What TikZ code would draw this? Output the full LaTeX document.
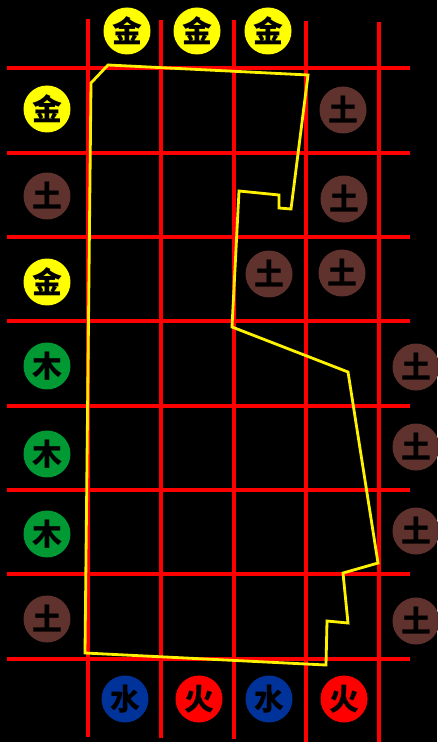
\documentclass[tikz,border=0pt]{standalone}
\usepackage{fontspec}
\newfontfamily\cjk{Noto Sans CJK SC}
\usepackage{tikz}
\usetikzlibrary{positioning}
\definecolor{metalyellow}{RGB}{255,255,0}
\definecolor{earthbrown}{RGB}{96,50,46}
\definecolor{woodgreen}{RGB}{0,153,51}
\definecolor{waterblue}{RGB}{0,51,153}
\definecolor{firered}{RGB}{255,0,0}
\begin{document}
\begin{tikzpicture}[x=0.02cm, y=-0.02cm,
		piece/.style={circle, minimum size=0.94cm, inner sep=0pt, text=black,
			font=\cjk\bfseries\fontsize{17pt}{17pt}\selectfont},
		metal/.style={piece, fill=metalyellow},
		earth/.style={piece, fill=earthbrown},
		wood/.style={piece, fill=woodgreen},
		water/.style={piece, fill=waterblue},
		fire/.style={piece, fill=firered},
		redline/.style={draw=red, line width=2pt},
		border/.style={draw=yellow, line width=1.6pt, line join=miter},
		]

		% Background
		\useasboundingbox (0,0) rectangle (437,742);
		\fill[black] (0,0) rectangle (437,742);

		% Grid
		\draw[redline] (88,19) -- (88,737);
		\draw[redline] (161,20) -- (161,738);
		\draw[redline] (234,20) -- (234,739);
		\draw[redline] (306,21) -- (306,742);
		\draw[redline] (379,22) -- (379,742);
		\draw[redline] (7,68) -- (410,68);
		\draw[redline] (7,153) -- (410,153);
		\draw[redline] (7,237) -- (410,237);
		\draw[redline] (7,321) -- (410,321);
		\draw[redline] (7,406) -- (410,406);
		\draw[redline] (7,490) -- (410,490);
		\draw[redline] (7,574) -- (410,574);
		\draw[redline] (7,659) -- (410,659);

		% Boundary
		\draw[border] (91,83) -- (108,65) -- (308,75) -- (291,209) -- (279,208) -- (279,195)
			-- (239,191) -- (232,327) -- (348,372) -- (378,563) -- (343,573) -- (348,623)
			-- (327,621) -- (326,665) -- (85,653) -- cycle;

		% Top row
		\node[metal] (top1) at (127,31) {金};
		\node[metal] (top2) at (197,31) {金};
		\node[metal] (top3) at (268,31) {金};

		% Left column
		\node[metal] (left1) at (47,109) {金};
		\node[earth] (left2) at (47,196) {土};
		\node[metal] (left3) at (47,282) {金};
		\node[wood] (left4) at (47,366) {木};
		\node[wood] (left5) at (47,454) {木};
		\node[wood] (left6) at (47,534) {木};
		\node[earth] (left7) at (47,619) {土};

		% Inside
		\node[earth] (in1) at (343,110) {土};
		\node[earth] (in2) at (344,199) {土};
		\node[earth] (in3) at (269,274) {土};
		\node[earth] (in4) at (342,273) {土};

		% Right column
		\node[earth] (right1) at (416,367) {土};
		\node[earth] (right2) at (416,447) {土};
		\node[earth] (right3) at (416,531) {土};
		\node[earth] (right4) at (416,621) {土};

		% Bottom row
		\node[water] (bot1) at (125,699) {水};
		\node[fire] (bot2) at (199,699) {火};
		\node[water] (bot3) at (269,699) {水};
		\node[fire] (bot4) at (344,699) {火};
	\end{tikzpicture}
\end{document}
